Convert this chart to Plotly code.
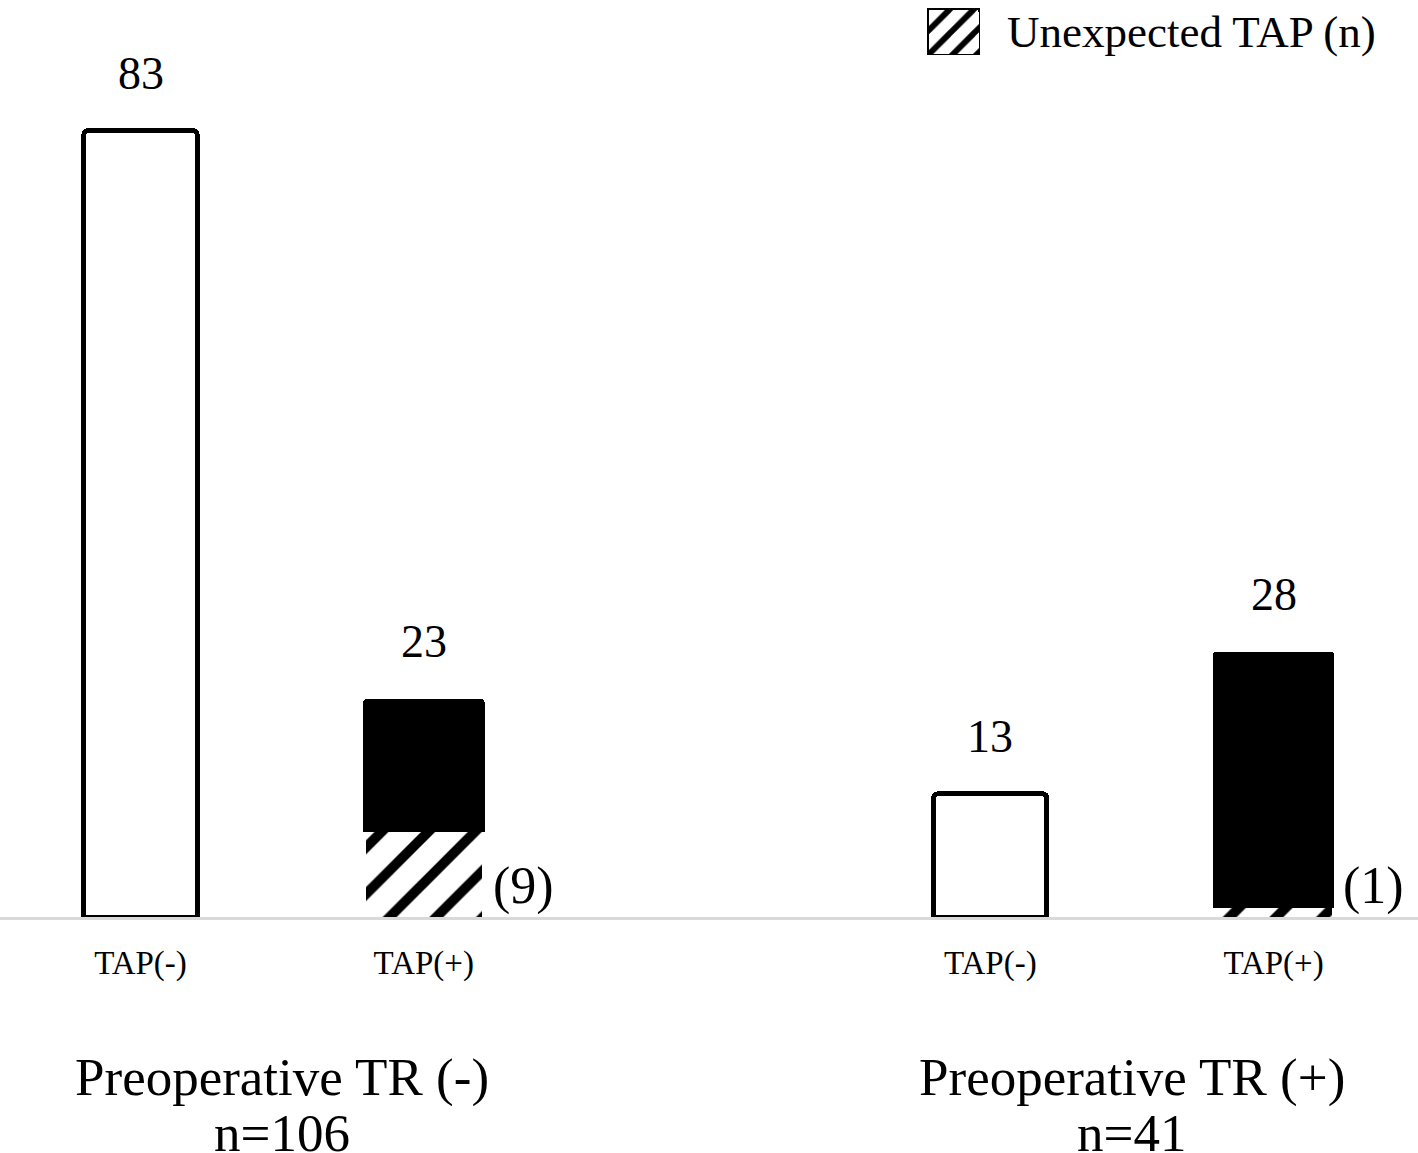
import plotly.graph_objects as go

groups = ["Preoperative TR (-)", "Preoperative TR (+)"]
group_n = [106, 41]
tap_labels = ["TAP(-)", "TAP(+)"]
tap_neg = [83, 13]
tap_pos_expected = [14, 27]
tap_pos_unexpected = [9, 1]
legend_name = "Unexpected TAP (n)"

FONT = "Liberation Serif, Times New Roman, serif"
W, H = 1418, 1153
MB = 236
PH = H - MB

x_neg = [g * 3 + 0 for g in range(len(groups))]
x_pos = [g * 3 + 1 for g in range(len(groups))]

hatch = dict(shape="/", fgcolor="black", bgcolor="white", fgopacity=1,
             size=33, solidity=0.3, fillmode="replace")

fig = go.Figure()
fig.add_trace(go.Bar(
    x=x_neg, y=tap_neg, width=0.40,
    marker=dict(color="white", line=dict(color="black", width=5)),
    showlegend=False,
))
fig.add_trace(go.Bar(
    x=x_pos, y=tap_pos_unexpected, width=0.41, name=legend_name,
    marker=dict(color="white", line=dict(color="white", width=0), pattern=hatch),
    showlegend=False,
))
fig.add_trace(go.Bar(
    x=x_pos, y=tap_pos_expected, width=0.43,
    marker=dict(color="black", line=dict(color="black", width=0)),
    showlegend=False,
))
# legend key swatch (hatched box) on its own small axis
fig.add_trace(go.Bar(
    x=[0], y=[1], width=1, xaxis="x2", yaxis="y2", hoverinfo="skip",
    marker=dict(color="white", line=dict(color="black", width=3),
                pattern=dict(shape="/", fgcolor="black", bgcolor="white", fgopacity=1,
                             size=17, solidity=0.35, fillmode="replace")),
    showlegend=False,
))

annotations = []
totals_neg = tap_neg
totals_pos = [a + b for a, b in zip(tap_pos_expected, tap_pos_unexpected)]
for x, v in zip(x_neg + x_pos, totals_neg + totals_pos):
    annotations.append(dict(x=x, y=v, text=str(v), showarrow=False,
                            yanchor="bottom", yshift=30,
                            font=dict(family=FONT, size=46, color="black")))
for x, v in zip(x_pos, tap_pos_unexpected):
    annotations.append(dict(x=x, y=0, text=f"({v})", showarrow=False,
                            xanchor="left", yanchor="bottom", xshift=67, yshift=0,
                            font=dict(family=FONT, size=52, color="black")))
for g, (name, n) in enumerate(zip(groups, group_n)):
    xc = g * 3 + 0.5
    annotations.append(dict(x=xc, y=0, yref="paper", text=name, showarrow=False,
                            yanchor="middle", yshift=-160,
                            font=dict(family=FONT, size=53, color="black")))
    annotations.append(dict(x=xc, y=0, yref="paper", text=f"n={n}", showarrow=False,
                            yanchor="middle", yshift=-216,
                            font=dict(family=FONT, size=53, color="black")))
annotations.append(dict(x=1005 / W, y=1 - 32 / PH, xref="paper", yref="paper",
                        text=legend_name, showarrow=False,
                        xanchor="left", yanchor="middle",
                        font=dict(family=FONT, size=45, color="black")))

fig.update_layout(
    width=W, height=H,
    margin=dict(l=0, r=0, t=0, b=MB),
    paper_bgcolor="white", plot_bgcolor="white",
    barmode="stack", barcornerradius=4,
    annotations=annotations,
    showlegend=False,
    xaxis=dict(range=[-0.496, 4.51], tickvals=x_neg + x_pos,
               ticktext=[tap_labels[0]] * len(groups) + [tap_labels[1]] * len(groups),
               showgrid=False, zeroline=False, showline=True,
               linecolor="#d9d9d9", linewidth=3, ticks="",
               ticklabelstandoff=14,
               tickfont=dict(family=FONT, size=33, color="black")),
    yaxis=dict(range=[0, 96.8], visible=False, showgrid=False, zeroline=False),
    xaxis2=dict(domain=[927 / W, 980 / W], range=[-0.5, 0.5], visible=False,
                anchor="y2", fixedrange=True),
    yaxis2=dict(domain=[1 - 55 / PH, 1 - 8 / PH], range=[0, 1], visible=False,
                anchor="x2", fixedrange=True),
)

fig.write_html("out.html", config={"displayModeBar": False},
               post_script="document.body.style.margin='0';document.body.style.overflow='hidden';")
